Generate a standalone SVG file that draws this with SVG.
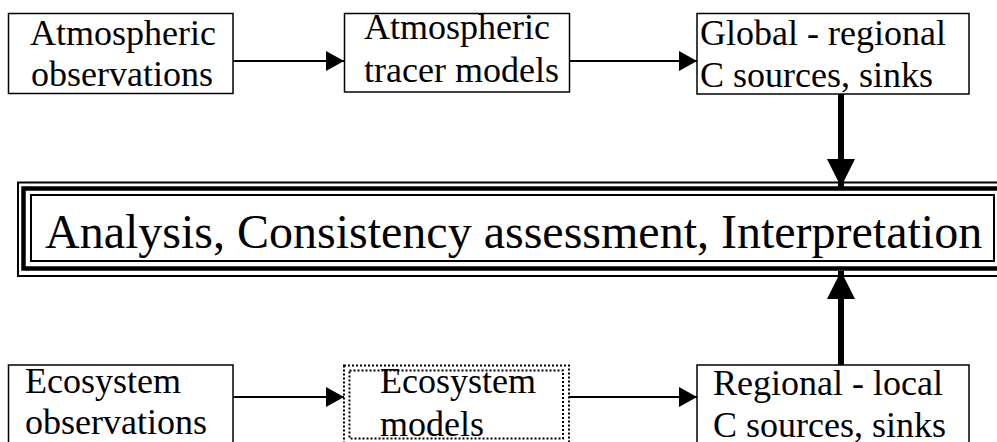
<svg xmlns="http://www.w3.org/2000/svg" width="997" height="442" viewBox="0 0 997 442">
  <defs>
    <marker id="head" viewBox="0 0 18 20" refX="18" refY="10" markerWidth="18" markerHeight="20" markerUnits="userSpaceOnUse" orient="auto">
      <path d="M0,0 L18,10 L0,20 Z" fill="#000"/>
    </marker>
    <marker id="headBig" viewBox="0 0 28 28" refX="28" refY="14" markerWidth="28" markerHeight="28" markerUnits="userSpaceOnUse" orient="auto">
      <path d="M0,0 L28,14 L0,28 Z" fill="#000"/>
    </marker>
  </defs>
  <style>
    .box { fill: #fff; stroke: #000; stroke-width: 1.5; }
    .dot { fill: none; stroke: #000; stroke-width: 2; stroke-dasharray: 2 2; }
    text { font-family: 'Liberation Serif', 'Times New Roman', Times, 'DejaVu Serif', serif; fill: #000; }
    .lbl { font-size: 36px; }
    .big { font-size: 48px; }
    .thin { fill: none; stroke: #000; stroke-width: 2; }
    .thick { fill: none; stroke: #000; stroke-width: 4.5; }
    .edge { fill: none; stroke: #000; stroke-width: 2; marker-end: url(#head); }
    .edgeBig { fill: none; stroke: #000; stroke-width: 6; marker-end: url(#headBig); }
  </style>
  <rect width="997" height="442" fill="#fff"/>

  <!-- connectors -->
  <g id="connectors">
    <line class="edge" x1="233" y1="61" x2="344" y2="61"/>
    <line class="edge" x1="570" y1="61" x2="697" y2="61"/>
    <line class="edge" x1="233" y1="397" x2="344" y2="397"/>
    <line class="edge" x1="569" y1="397" x2="697" y2="397"/>
    <line class="edgeBig" x1="841" y1="94" x2="841" y2="187"/>
    <line class="edgeBig" x1="841" y1="365" x2="841" y2="271"/>
  </g>

  <!-- top row -->
  <g id="atm-obs">
    <rect class="box" x="8.5" y="13.5" width="224.5" height="80"/>
    <text class="lbl" font-family="Liberation Serif" x="30" y="45">Atmospheric</text>
    <text class="lbl" font-family="Liberation Serif" x="31" y="86">observations</text>
  </g>
  <g id="atm-models">
    <rect class="box" x="344.5" y="13.5" width="225" height="78.5"/>
    <text class="lbl" font-family="Liberation Serif" x="364" y="39">Atmospheric</text>
    <text class="lbl" font-family="Liberation Serif" x="364" y="82">tracer models</text>
  </g>
  <g id="global-sources">
    <rect class="box" x="697" y="13.5" width="272" height="80.5"/>
    <text class="lbl" font-family="Liberation Serif" x="700" y="45">Global - regional</text>
    <text class="lbl" font-family="Liberation Serif" x="700" y="87">C sources, sinks</text>
  </g>

  <!-- central node with triple frame -->
  <g id="analysis">
    <rect class="thin" x="18" y="182.5" width="990" height="93.5"/>
    <rect class="thick" x="23.5" y="188.5" width="978" height="80"/>
    <rect fill="#fff" stroke="#000" stroke-width="2" x="31" y="195" width="963" height="66"/>
    <text class="big" font-family="Liberation Serif" x="45" y="247.5">Analysis, Consistency assessment, Interpretation</text>
  </g>

  <!-- bottom row -->
  <g id="eco-obs">
    <rect class="box" x="8.5" y="365" width="224.5" height="90"/>
    <text class="lbl" font-family="Liberation Serif" x="25" y="392.5">Ecosystem</text>
    <text class="lbl" font-family="Liberation Serif" x="25" y="433.5">observations</text>
  </g>
  <g id="eco-models">
    <rect fill="#fff" class="dot" x="344" y="365.5" width="225" height="90"/>
    <rect class="dot" x="349.5" y="370.5" width="213.5" height="68"/>
    <text class="lbl" font-family="Liberation Serif" x="380" y="392.5">Ecosystem</text>
    <text class="lbl" font-family="Liberation Serif" x="380" y="435.5">models</text>
  </g>
  <g id="regional-sources">
    <rect class="box" x="697" y="365" width="272" height="90"/>
    <text class="lbl" font-family="Liberation Serif" x="713" y="395">Regional - local</text>
    <text class="lbl" font-family="Liberation Serif" x="713" y="436.5">C sources, sinks</text>
  </g>
</svg>
